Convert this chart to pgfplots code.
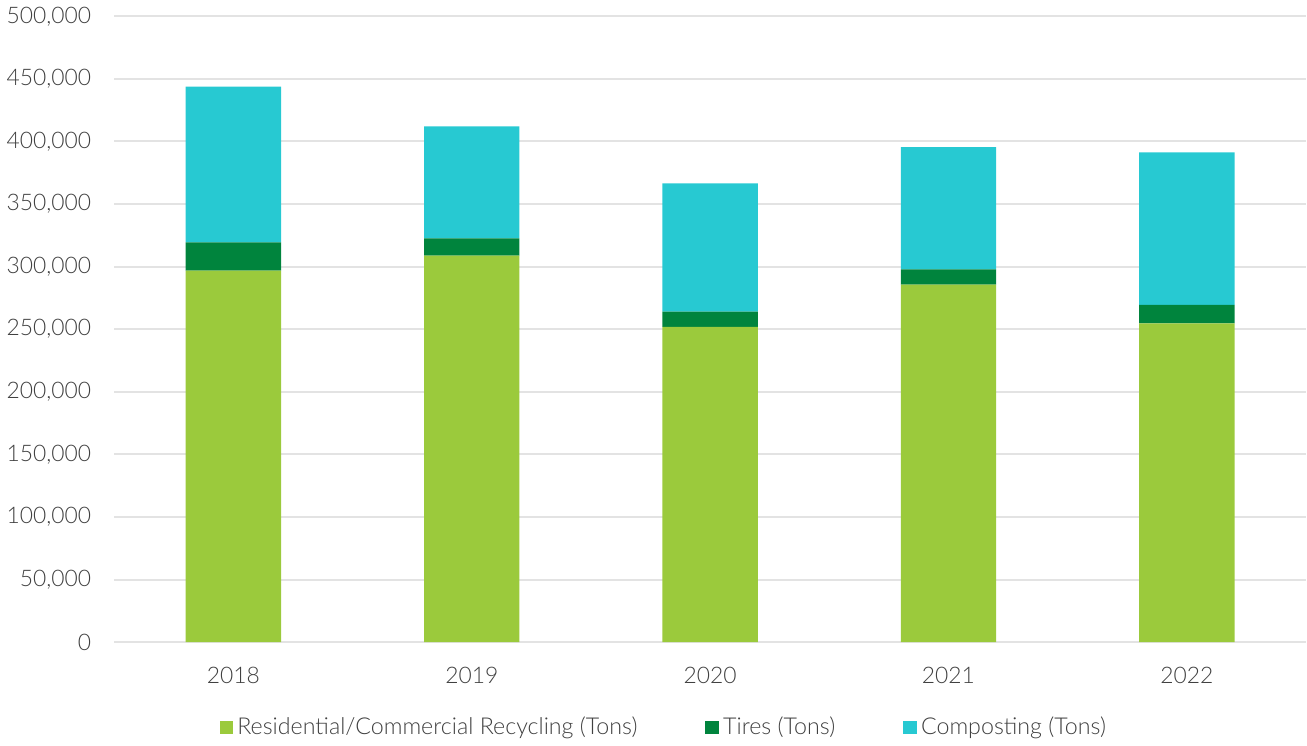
\documentclass[border=0pt]{standalone}
\usepackage{pgfplots}
\pgfplotsset{compat=1.18}
\usepackage{fontspec}
\setmainfont{Lato}[UprightFont=* Light]
\definecolor{recyc}{HTML}{9BCA3C}
\definecolor{tires}{HTML}{00843D}
\definecolor{compost}{HTML}{27C9D2}
\definecolor{gridc}{HTML}{E3E3E3}
\definecolor{txt}{HTML}{404040}
\begin{document}
\begin{tikzpicture}
  \begin{axis}[
      scale only axis,
      width=595pt, height=312.5pt,
      ybar stacked,
      bar width=0.4,
      xmin=-0.5, xmax=4.5,
      ymin=0, ymax=500000,
      ytick={0,50000,...,500000},
      xtick=data,
      xticklabels={2018,2019,2020,2021,2022},
      scaled y ticks=false,
      /pgf/number format/fixed,
      /pgf/number format/1000 sep={,},
      /pgf/number format/assume math mode=true,
      ymajorgrids,
      grid style={gridc, line width=1pt},
      axis line style={draw=none},
      xtick style={draw=none},
      ytick style={draw=none},
      tick label style={font=\fontsize{11.4}{14}\selectfont, text=txt},
      yticklabel style={xshift=-8pt},
      xticklabel style={yshift=-9pt},
      legend style={draw=none, at={(0.462,-0.136)}, anchor=center,
        font=\fontsize{11.6}{14}\selectfont, text=txt,
        legend columns=3, /tikz/every even column/.append style={column sep=32pt}},
      legend image code/.code={\fill[#1] (0cm,-0.12cm) rectangle (0.24cm,0.12cm);},
    ]
    \addplot[fill=recyc, draw=none] coordinates {(0,296800) (1,308800) (2,252000) (3,285600) (4,254600)};
    \addplot[fill=tires, draw=none] coordinates {(0,22600) (1,13800) (2,12000) (3,12200) (4,14800)};
    \addplot[fill=compost, draw=none] coordinates {(0,124400) (1,89400) (2,102600) (3,97600) (4,121800)};
    \legend{Residential/Commercial Recycling (Tons), Tires (Tons), Composting (Tons)}
  \end{axis}
\end{tikzpicture}
\end{document}
